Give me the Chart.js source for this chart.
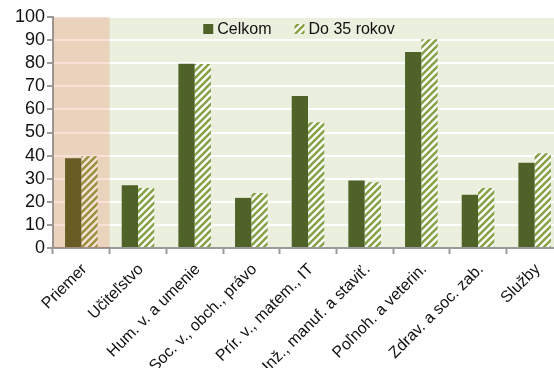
<!DOCTYPE html>
<html>
<head>
<meta charset="utf-8">
<script src="https://cdn.jsdelivr.net/npm/chart.js@4/dist/chart.umd.min.js"></script>
<style>
  html, body { margin: 0; padding: 0; background: #ffffff; overflow: hidden; }
  #wrap { position: relative; width: 564px; height: 368px; }
</style>
</head>
<body>
<div id="wrap"><canvas id="chart"></canvas></div>
<script>
// Study fields and shares (%) for all graduates and for those under 35
const categories = [
  'Priemer',
  'Učiteľstvo',
  'Hum. v. a umenie',
  'Soc. v., obch., právo',
  'Prír. v., matem., IT',
  'Inž., manuf. a staviť.',
  'Poľnoh. a veterin.',
  'Zdrav. a soc. zab.',
  'Služby'
];
const celkom   = [38.8, 27.2, 79.8, 21.7, 65.8, 29.2, 84.9, 23.1, 36.9];
const do35     = [39.7, 26.0, 79.6, 23.8, 54.4, 28.5, 90.4, 26.0, 41.0];
const seriesNames = ['Celkom', 'Do 35 rokov'];
const yTicks = { min: 0, max: 100, step: 10 };

const FONT = "'Liberation Sans', Arial, sans-serif";
const DARK = '#4f6228';
const HATCH = '#86a34a';
const PLOT_BG = '#ebf0de';

// diagonal "/" stripes for the second series
function makeHatch() {
  const s = 7;
  const c = document.createElement('canvas');
  c.width = s; c.height = s;
  const g = c.getContext('2d');
  g.fillStyle = '#ffffff';
  g.fillRect(0, 0, s, s);
  g.strokeStyle = HATCH;
  g.lineWidth = 2.6;
  g.beginPath();
  g.moveTo(-1, s + 1); g.lineTo(s + 1, -1);
  g.moveTo(-1, 1); g.lineTo(1, -1);
  g.moveTo(s - 1, s + 1); g.lineTo(s + 1, s - 1);
  g.stroke();
  return g.createPattern(c, 'repeat');
}
const hatch = makeHatch();

// plot-area fill behind everything
const plotBackground = {
  id: 'plotBackground',
  beforeDraw(chart) {
    const { ctx, chartArea: a } = chart;
    ctx.save();
    ctx.fillStyle = PLOT_BG;
    ctx.fillRect(a.left, a.top, a.right - a.left, a.bottom - a.top);
    ctx.restore();
  }
};

// translucent tint over the first (average) category
const averageTint = {
  id: 'averageTint',
  afterDatasetsDraw(chart) {
    const { ctx, chartArea: a, scales: { x } } = chart;
    const w = x.width / categories.length;
    const cx = x.getPixelForValue(0);
    ctx.save();
    ctx.fillStyle = 'rgba(230, 60, 10, 0.16)';
    ctx.fillRect(cx - w / 2, a.top, w, a.bottom - a.top);
    ctx.restore();
  }
};

// one-row legend drawn inside the plot, near its top edge
const innerLegend = {
  id: 'innerLegend',
  afterDraw(chart) {
    const { ctx, chartArea: a } = chart;
    const box = 10, gapText = 4, gapItem = 23;
    ctx.save();
    ctx.font = '16px ' + FONT;
    ctx.textBaseline = 'middle';
    const items = chart.data.datasets.map(ds => ({
      label: ds.label, fill: ds.backgroundColor, w: box + gapText + ctx.measureText(ds.label).width
    }));
    const total = items.reduce((s, it) => s + it.w, 0) + gapItem * (items.length - 1);
    let x = a.left + 246 - total / 2;
    const yMid = a.top + 12;
    items.forEach(it => {
      ctx.fillStyle = it.fill;
      ctx.fillRect(x, yMid - box / 2, box, box);
      ctx.fillStyle = '#111';
      ctx.fillText(it.label, x + box + gapText, yMid + 1);
      x += it.w + gapItem;
    });
    ctx.restore();
  }
};

new Chart(document.getElementById('chart'), {
  type: 'bar',
  data: {
    labels: categories,
    datasets: [
      { label: seriesNames[0], data: celkom, backgroundColor: DARK, borderWidth: 0 },
      { label: seriesNames[1], data: do35, backgroundColor: hatch, borderWidth: 0 }
    ]
  },
  options: {
    responsive: true,
    maintainAspectRatio: false,
    animation: false,
    events: [],
    categoryPercentage: 0.575,
    barPercentage: 1.0,
    layout: { padding: { top: 17, right: 1, bottom: 0, left: 0 } },
    plugins: {
      tooltip: { enabled: false },
      legend: { display: false }
    },
    scales: {
      x: {
        grid: { offset: true, drawOnChartArea: false, tickLength: 6, tickColor: '#9a9a9a', tickWidth: 2 },
        border: { color: '#9a9a9a', width: 2 },
        ticks: {
          color: '#111',
          font: { family: FONT, size: 16 },
          minRotation: 45,
          maxRotation: 45,
          autoSkip: false,
          padding: 6,
          labelOffset: 3
        },
        afterFit(scale) { scale.height = 120; }
      },
      y: {
        min: yTicks.min,
        max: yTicks.max,
        grid: { color: '#ffffff', lineWidth: 2, tickLength: 6, tickColor: '#9a9a9a', tickWidth: 2 },
        border: { color: '#9a9a9a', width: 2 },
        ticks: {
          stepSize: yTicks.step,
          autoSkip: false,
          color: '#111',
          font: { family: FONT, size: 18 },
          padding: 2
        },
        afterFit(scale) { scale.width = 53; }
      }
    }
  },
  plugins: [plotBackground, averageTint, innerLegend]
});
</script>
</body>
</html>
